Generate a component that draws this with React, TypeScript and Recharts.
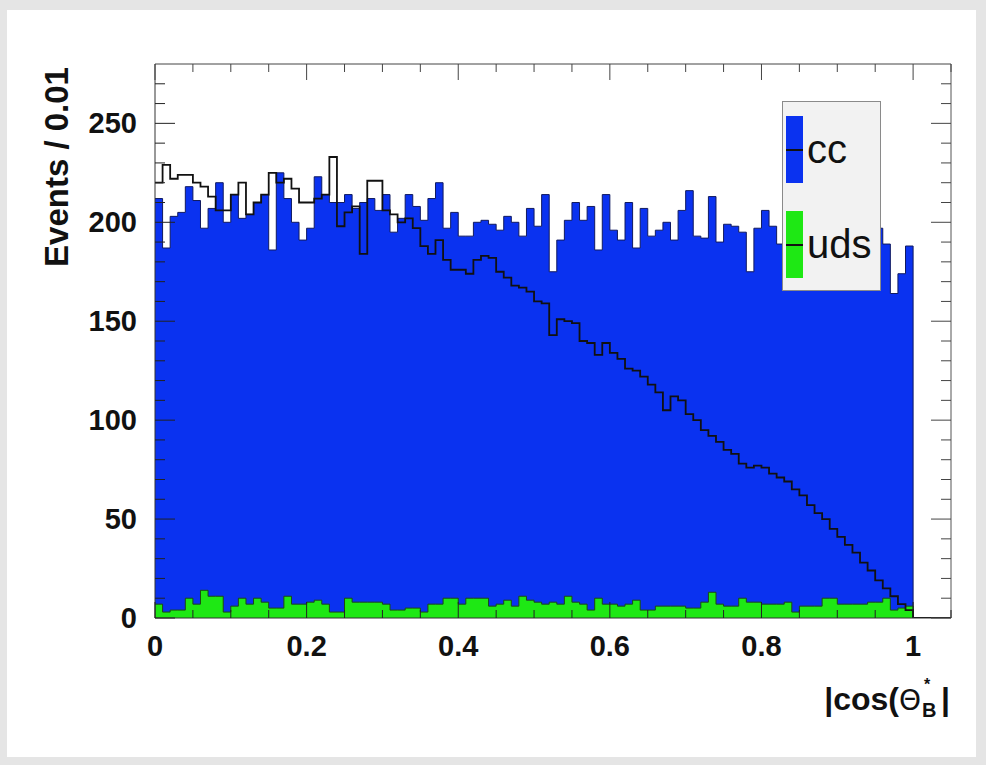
import React from 'react';
import { ComposedChart, Area, Line, XAxis, YAxis } from 'recharts';

// Bin contents, 100 bins of width 0.01 on |cos(theta*_B)| in [0, 1]
const ccCounts = [
  212, 187, 203, 205, 218, 211, 197, 207, 220, 200,
  214, 202, 204, 210, 214, 186, 225, 212, 200, 191,
  197, 223, 214, 210, 210, 214, 207, 210, 212, 206,
  214, 195, 202, 214, 208, 201, 212, 220, 197, 205,
  193, 193, 200, 201, 199, 196, 203, 200, 193, 207,
  198, 214, 175, 191, 201, 210, 201, 208, 186, 214,
  196, 191, 210, 187, 207, 193, 196, 200, 191, 206,
  216, 193, 192, 213, 190, 199, 198, 195, 175, 197,
  206, 198, 189, 200, 207, 196, 203, 210, 194, 205,
  199, 208, 192, 201, 206, 197, 189, 164, 174, 188,
];

const udsCounts = [
  7, 3, 4, 4, 10, 7, 14, 11, 11, 3,
  6, 10, 7, 10, 8, 5, 5, 11, 7, 7,
  8, 9, 7, 3, 3, 10, 8, 8, 8, 8,
  7, 4, 4, 5, 5, 3, 7, 7, 10, 10,
  7, 10, 10, 10, 6, 7, 9, 6, 11, 9,
  8, 7, 8, 7, 11, 8, 7, 4, 10, 7,
  7, 6, 7, 9, 4, 4, 6, 6, 6, 6,
  5, 5, 8, 13, 7, 6, 6, 10, 8, 8,
  7, 7, 7, 8, 3, 6, 6, 6, 10, 10,
  7, 7, 7, 7, 8, 8, 10, 4, 5, 6,
];

const signalCounts = [
  220, 229, 222, 224, 224, 220, 218, 213, 206, 206,
  214, 220, 204, 210, 214, 225, 220, 222, 217, 210,
  210, 212, 214, 233, 198, 205, 208, 184, 221, 221,
  206, 204, 200, 202, 197, 188, 184, 191, 181, 176,
  176, 174, 181, 183, 182, 175, 172, 168, 167, 165,
  160, 159, 143, 151, 150, 149, 140, 139, 133, 139,
  134, 131, 126, 125, 122, 118, 114, 105, 112, 110,
  103, 100, 95, 92, 89, 85, 83, 78, 76, 77,
  76, 73, 71, 69, 65, 62, 57, 53, 50, 45,
  41, 37, 33, 28, 24, 19, 15, 11, 7, 4,
];

const BIN_WIDTH = 0.01;
const N_EDGES = 106; // axis runs to 1.05

const xTicks = [0, 0.05, 0.1, 0.15, 0.2, 0.25, 0.3, 0.35, 0.4, 0.45, 0.5, 0.55, 0.6, 0.65, 0.7, 0.75, 0.8, 0.85, 0.9, 0.95, 1, 1.05];
const xLabelTicks = [0, 0.2, 0.4, 0.6, 0.8, 1];
const yTicks = [0, 10, 20, 30, 40, 50, 60, 70, 80, 90, 100, 110, 120, 130, 140, 150, 160, 170, 180, 190, 200, 210, 220, 230, 240, 250, 260, 270];
const yLabelTicks = [0, 50, 100, 150, 200, 250];

const BLUE = '#0a32f0';
const GREEN = '#1ee814';
const FONT = '"Liberation Sans", Arial, Helvetica, sans-serif';

const legendItems = [
  { name: 'cc', color: BLUE },
  { name: 'uds', color: GREEN },
];

const data = Array.from({ length: N_EDGES }, (_, i) => ({
  x: Math.round(i * BIN_WIDTH * 100) / 100,
  cc: i < ccCounts.length ? ccCounts[i] : 0,
  uds: i < udsCounts.length ? udsCounts[i] : 0,
  sig: i < signalCounts.length ? signalCounts[i] : 0,
}));

const isIn = (arr: number[], v: number) => arr.some((a) => Math.abs(a - v) < 1e-9);

const BottomTick = (props: any) => {
  const { x, y, payload } = props;
  const major = isIn(xLabelTicks, payload.value);
  return (
    <g>
      <line x1={x} y1={y} x2={x} y2={y - (major ? 16 : 8)} stroke="#222" strokeWidth={1} />
      {major && (
        <text x={x} y={y + 38} textAnchor="middle" fontFamily={FONT} fontWeight="bold" fontSize={29} fill="#111">
          {String(payload.value)}
        </text>
      )}
    </g>
  );
};

const TopTick = (props: any) => {
  const { x, y, payload } = props;
  const major = isIn(xLabelTicks, payload.value);
  return <line x1={x} y1={y} x2={x} y2={y + (major ? 16 : 8)} stroke="#444" strokeWidth={1} />;
};

const LeftTick = (props: any) => {
  const { x, y, payload } = props;
  const major = isIn(yLabelTicks, payload.value);
  return (
    <g>
      <line x1={x} y1={y} x2={x + (major ? 20 : 10)} y2={y} stroke="#222" strokeWidth={1} />
      {major && (
        <text x={x - 18} y={y + 10} textAnchor="end" fontFamily={FONT} fontWeight="bold" fontSize={29} fill="#111">
          {String(payload.value)}
        </text>
      )}
    </g>
  );
};

const RightTick = (props: any) => {
  const { x, y, payload } = props;
  const major = isIn(yLabelTicks, payload.value);
  return <line x1={x} y1={y} x2={x - (major ? 20 : 10)} y2={y} stroke="#444" strokeWidth={1} />;
};

export default function App() {
  return (
    <div style={{ position: 'absolute', left: 0, top: 0, width: 986, height: 765, background: '#e5e5e5', overflow: 'hidden' }}>
      <div style={{ position: 'absolute', left: 7, top: 10, width: 969, height: 747, background: '#ffffff' }} />
      <div style={{ position: 'absolute', left: 0, top: 0 }}>
        <ComposedChart
          width={986}
          height={765}
          data={data}
          margin={{ top: 59, right: 30, bottom: 97, left: 95 }}
        >
          <XAxis
            xAxisId="bottom"
            dataKey="x"
            type="number"
            domain={[0, 1.05]}
            allowDataOverflow
            ticks={xTicks}
            interval={0}
            tickSize={0}
            tickMargin={0}
            height={50}
            tickLine={false}
            axisLine={{ stroke: '#333', strokeWidth: 1 }}
            tick={BottomTick}
          />
          <XAxis
            xAxisId="top"
            orientation="top"
            dataKey="x"
            type="number"
            domain={[0, 1.05]}
            allowDataOverflow
            ticks={xTicks}
            interval={0}
            tickSize={0}
            tickMargin={0}
            height={5}
            tickLine={false}
            axisLine={{ stroke: '#444', strokeWidth: 1 }}
            tick={TopTick}
          />
          <YAxis
            yAxisId="left"
            type="number"
            domain={[0, 280]}
            allowDataOverflow
            ticks={yTicks}
            interval={0}
            tickSize={0}
            tickMargin={0}
            width={60}
            tickLine={false}
            axisLine={{ stroke: '#333', strokeWidth: 1 }}
            tick={LeftTick}
          />
          <YAxis
            yAxisId="right"
            orientation="right"
            type="number"
            domain={[0, 280]}
            allowDataOverflow
            ticks={yTicks}
            interval={0}
            tickSize={0}
            tickMargin={0}
            width={5}
            tickLine={false}
            axisLine={{ stroke: '#555', strokeWidth: 1 }}
            tick={RightTick}
          />
          <Area
            xAxisId="bottom"
            yAxisId="left"
            type="stepAfter"
            dataKey="sig"
            fill="#ffffff"
            fillOpacity={1}
            stroke="none"
            isAnimationActive={false}
            legendType="none"
            dot={false}
            activeDot={false}
          />
          <Area
            xAxisId="bottom"
            yAxisId="left"
            type="stepAfter"
            dataKey="cc"
            name="cc"
            fill={BLUE}
            fillOpacity={1}
            stroke="#101a60"
            strokeWidth={1}
            isAnimationActive={false}
            dot={false}
            activeDot={false}
          />
          <Area
            xAxisId="bottom"
            yAxisId="left"
            type="stepAfter"
            dataKey="uds"
            name="uds"
            fill={GREEN}
            fillOpacity={1}
            stroke="#1d4a10"
            strokeWidth={1}
            isAnimationActive={false}
            dot={false}
            activeDot={false}
          />
          <Line
            xAxisId="bottom"
            yAxisId="left"
            type="stepAfter"
            dataKey="sig"
            stroke="#111"
            strokeWidth={1.8}
            dot={false}
            activeDot={false}
            legendType="none"
            isAnimationActive={false}
          />
        </ComposedChart>
      </div>

      {/* Y axis title */}
      <div
        style={{
          position: 'absolute',
          left: 56,
          top: 167,
          transform: 'translate(-50%, -50%) rotate(-90deg)',
          fontFamily: FONT,
          fontWeight: 'bold',
          fontSize: 33,
          whiteSpace: 'nowrap',
          color: '#111',
          lineHeight: 1,
        }}
      >
        Events / 0.01
      </div>

      {/* X axis title */}
      <div
        style={{
          position: 'absolute',
          right: 36,
          top: 683,
          fontFamily: FONT,
          fontWeight: 'bold',
          fontSize: 32,
          whiteSpace: 'nowrap',
          color: '#111',
          lineHeight: 1,
        }}
      >
        |cos(
        <span style={{ fontFamily: '"DejaVu Sans", sans-serif', fontWeight: 'normal', fontSize: 28 }}>Θ</span>
        <span style={{ display: 'inline-block', position: 'relative', width: 20, height: 32, verticalAlign: 'top' }}>
          <span style={{ position: 'absolute', left: 3, top: -6, fontSize: 16 }}>*</span>
          <span style={{ position: 'absolute', left: 1, top: 17, fontSize: 20 }}>B</span>
        </span>
        |
      </div>

      {/* Legend */}
      <div
        style={{
          position: 'absolute',
          left: 782,
          top: 101,
          width: 99,
          height: 190,
          background: '#f2f2f2',
          border: '1px solid #8a8a8a',
          boxSizing: 'border-box',
        }}
      >
        {legendItems.map((item, i) => (
          <div key={item.name} style={{ position: 'absolute', left: 0, top: 47 + i * 95, width: '100%' }}>
            <div style={{ position: 'absolute', left: 3, top: -33, width: 17, height: 67, background: item.color }} />
            <div style={{ position: 'absolute', left: 3, top: 0, width: 17, height: 2, background: '#111' }} />
            <div
              style={{
                position: 'absolute',
                left: 24,
                top: -24,
                fontFamily: FONT,
                fontSize: 40,
                lineHeight: '48px',
                color: '#111',
              }}
            >
              {item.name}
            </div>
          </div>
        ))}
      </div>
    </div>
  );
}
